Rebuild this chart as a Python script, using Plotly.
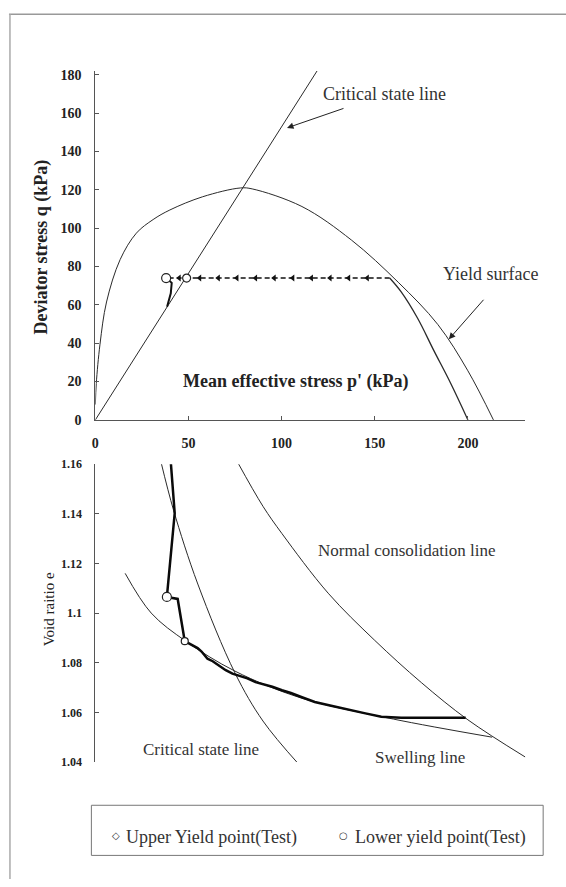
import plotly.graph_objects as go

W, H = 566, 887

# ---------------- data: q-p' plane ----------------
ys_p = [0, 0.5, 2.5, 6, 13.3, 22, 31, 40, 57.6, 78, 84.2, 110.9, 137.5, 162.6, 183.9, 200, 213.7]
ys_q = [8, 19, 39.5, 61.5, 83.6, 97.4, 104.5, 109.5, 116.4, 121, 120.5, 111.3, 93.8, 71.8, 49.7, 25.6, 0]

csl_top_p = [0, 119]
csl_top_q = [0, 182]

path_rise_p = [200, 190.8, 181.8, 173, 164, 158]
path_rise_q = [0, 19, 36, 53, 67, 74]

path_flat_p = [158, 49, 38]
path_flat_q = [74, 74, 74]

path_arrow_p = [45, 56, 66, 76, 86, 96, 106, 116, 126, 136, 146]
path_arrow_q = [74] * len(path_arrow_p)

path_hook_p = [38, 41, 40.5, 38.5]
path_hook_q = [74, 71.5, 66, 59]

upper_yield_p, upper_yield_q = [49], [74]
lower_yield_p, lower_yield_q = [38], [74]

# ---------------- data: e-p' plane ----------------
ncl_p = [76.2, 90, 100.2, 125, 150, 175, 200, 230.8]
ncl_e = [1.161, 1.143, 1.132, 1.108, 1.089, 1.072, 1.057, 1.042]

swell_p = [16, 30, 48.5, 75, 110.9, 160, 213]
swell_e = [1.116, 1.100, 1.0887, 1.0766, 1.0657, 1.0573, 1.050]

csl_bot_p = [35.2, 42, 55, 75, 90, 109.3]
csl_bot_e = [1.161, 1.1414, 1.1117, 1.0758, 1.0565, 1.039]

test_e_p = [40.5, 42.6, 38.4, 44.2, 48.0, 54.9, 57.0, 60.2, 63.0, 65.6, 70.0, 73.6, 77.0,
            81.6, 86.0, 90.6, 95.0, 100.2, 105.0, 110.9, 117.8, 126.0, 135.9, 145.0,
            153.5, 164.2, 198.8]
test_e_e = [1.1608, 1.1402, 1.1065, 1.1057, 1.0887, 1.0859, 1.0845, 1.0816, 1.0806, 1.0792,
            1.0770, 1.0756, 1.0748, 1.0737, 1.0722, 1.0713, 1.0703, 1.0689, 1.0678, 1.0661,
            1.0642, 1.0628, 1.0610, 1.0596, 1.0582, 1.0578, 1.0578]

upper_e_p, upper_e_e = [48.0], [1.0887]
lower_e_p, lower_e_e = [38.4], [1.1065]

q_ticks = [0, 20, 40, 60, 80, 100, 120, 140, 160, 180]
p_ticks = [0, 50, 100, 150, 200]
e_tickvals = [1.04, 1.06, 1.08, 1.10, 1.12, 1.14, 1.16]
e_ticktext = ["1.04", "1.06", "1.08", "1.1", "1.12", "1.14", "1.16"]

legend_labels = ["Upper Yield point(Test)", "Lower yield point(Test)"]

# ---------------- helpers (pixel -> paper) ----------------
def px(x):
    return x / W

def py(y):
    return 1 - y / H

SERIF = "Liberation Serif, Times New Roman, serif"
LINE = "#2a2a2a"

fig = go.Figure()

# top chart traces
fig.add_trace(go.Scatter(x=ys_p, y=ys_q, mode="lines", line=dict(color=LINE, width=1, shape="spline"),
                         xaxis="x", yaxis="y", showlegend=False))
fig.add_trace(go.Scatter(x=csl_top_p, y=csl_top_q, mode="lines", line=dict(color=LINE, width=1),
                         xaxis="x", yaxis="y", showlegend=False))
fig.add_trace(go.Scatter(x=path_rise_p, y=path_rise_q, mode="lines",
                         line=dict(color=LINE, width=1.3, shape="spline"),
                         xaxis="x", yaxis="y", showlegend=False))
fig.add_trace(go.Scatter(x=path_flat_p, y=path_flat_q, mode="lines",
                         line=dict(color="#111", width=1.5, dash="5px,3px"),
                         xaxis="x", yaxis="y", showlegend=False))
fig.add_trace(go.Scatter(x=path_arrow_p, y=path_arrow_q, mode="markers",
                         marker=dict(symbol="triangle-left", size=6, color="#111"),
                         xaxis="x", yaxis="y", showlegend=False))
fig.add_trace(go.Scatter(x=path_hook_p, y=path_hook_q, mode="lines",
                         line=dict(color="#111", width=2),
                         xaxis="x", yaxis="y", showlegend=False))
fig.add_trace(go.Scatter(x=upper_yield_p, y=upper_yield_q, mode="markers",
                         marker=dict(symbol="circle", size=8, color="white", line=dict(color="#222", width=1.2)),
                         xaxis="x", yaxis="y", showlegend=False))
fig.add_trace(go.Scatter(x=lower_yield_p, y=lower_yield_q, mode="markers",
                         marker=dict(symbol="circle", size=9, color="white", line=dict(color="#222", width=1.2)),
                         xaxis="x", yaxis="y", showlegend=False))

# bottom chart traces
fig.add_trace(go.Scatter(x=ncl_p, y=ncl_e, mode="lines", line=dict(color=LINE, width=1, shape="spline"),
                         xaxis="x2", yaxis="y2", showlegend=False))
fig.add_trace(go.Scatter(x=swell_p, y=swell_e, mode="lines", line=dict(color=LINE, width=1, shape="spline"),
                         xaxis="x2", yaxis="y2", showlegend=False))
fig.add_trace(go.Scatter(x=csl_bot_p, y=csl_bot_e, mode="lines", line=dict(color=LINE, width=1, shape="spline"),
                         xaxis="x2", yaxis="y2", showlegend=False))
fig.add_trace(go.Scatter(x=test_e_p, y=test_e_e, mode="lines", line=dict(color="#0a0a0a", width=2.5),
                         xaxis="x2", yaxis="y2", showlegend=False))
fig.add_trace(go.Scatter(x=upper_e_p, y=upper_e_e, mode="markers",
                         marker=dict(symbol="circle", size=7, color="white", line=dict(color="#222", width=1.2)),
                         xaxis="x2", yaxis="y2", showlegend=False))
fig.add_trace(go.Scatter(x=lower_e_p, y=lower_e_e, mode="markers",
                         marker=dict(symbol="circle", size=9, color="white", line=dict(color="#222", width=1.2)),
                         xaxis="x2", yaxis="y2", showlegend=False))

x_dom = [px(92), px(525)]
x_rng = [0, (525 - 92) / 1.876]

def axis_common(size):
    return dict(showgrid=False, zeroline=False, linecolor="#555", linewidth=1,
                ticks="inside", ticklen=4, tickcolor="#555",
                tickfont=dict(family=SERIF, size=size, color="#222", weight="bold"))

fig.update_layout(
    width=W, height=H,
    margin=dict(l=0, r=0, t=0, b=0),
    paper_bgcolor="white", plot_bgcolor="rgba(0,0,0,0)",
    showlegend=False,
    xaxis=dict(domain=x_dom, range=x_rng, anchor="y", showline=True,
               tickvals=p_ticks, ticklabelstandoff=10, **axis_common(14)),
    yaxis=dict(domain=[py(420), py(420 - 182 * 1.95)], range=[0, 182], anchor="x", showline=True,
               tickvals=q_ticks, ticklabelstandoff=10, **axis_common(14)),
    xaxis2=dict(domain=x_dom, range=x_rng, anchor="y2", matches="x", showline=False,
                showticklabels=False, ticks="", showgrid=False, zeroline=False),
    yaxis2=dict(domain=[py(768), py(465)], range=[1.04, 1.16], anchor="x2", showline=True,
                tickvals=e_tickvals, ticktext=e_ticktext, ticklabelstandoff=10, **axis_common(12)),
)

ann = []
def text(x, y, s, size=18, bold=False, angle=0, color="#333", xanchor="center"):
    ann.append(dict(x=px(x), y=py(y), xref="paper", yref="paper", text=s, showarrow=False,
                    textangle=angle, xanchor=xanchor, yanchor="middle",
                    font=dict(family=SERIF, size=size, color=color, weight="bold" if bold else "normal")))

def arrow(hx, hy, tx, ty):
    ann.append(dict(x=px(hx), y=py(hy), xref="paper", yref="paper", text="", showarrow=True,
                    ax=tx - hx, ay=ty - hy, arrowhead=2, arrowsize=1.3, arrowwidth=1, arrowcolor="#222"))

# top chart texts
text(383, 88, "Critical state line", 18)
arrow(285, 123, 343, 103)
text(490, 272, "Yield surface", 18)
arrow(448, 338, 484, 297)
text(294, 381, "Mean effective stress p' (kPa)", 18, bold=True, color="#222")
text(38, 244, "Deviator stress q (kPa)", 18, bold=True, angle=-90, color="#222")

# bottom chart texts
text(45, 613, "Void raitio e", 15, angle=-90, color="#222")
text(406, 553, "Normal consolidation line", 17)
text(198, 755, "Critical state line", 17)
text(419, 763, "Swelling line", 17)

# legend
ann.append(dict(x=px(113), y=py(843), xref="paper", yref="paper", text="◇", showarrow=False,
                xanchor="center", yanchor="middle",
                font=dict(family="DejaVu Sans", size=10, color="#333")))
text(121, 845, legend_labels[0], 18, color="#333", xanchor="left")
ann.append(dict(x=px(342), y=py(843), xref="paper", yref="paper", text="○", showarrow=False,
                xanchor="center", yanchor="middle",
                font=dict(family="DejaVu Sans", size=10, color="#333")))
text(351, 845, legend_labels[1], 18, color="#333", xanchor="left")

fig.update_layout(annotations=ann)

shapes = [
    dict(type="rect", xref="paper", yref="paper", x0=px(88), x1=px(543), y0=py(863), y1=py(812),
         line=dict(color="#777", width=1)),
    dict(type="line", xref="paper", yref="paper", x0=px(5), x1=px(566), y0=py(7.5), y1=py(7.5),
         line=dict(color="#999", width=1.5)),
    dict(type="line", xref="paper", yref="paper", x0=px(6), x1=px(6), y0=py(7), y1=py(887),
         line=dict(color="#aaa", width=1.5)),
]
fig.update_layout(shapes=shapes)

fig.write_html("out.html")
